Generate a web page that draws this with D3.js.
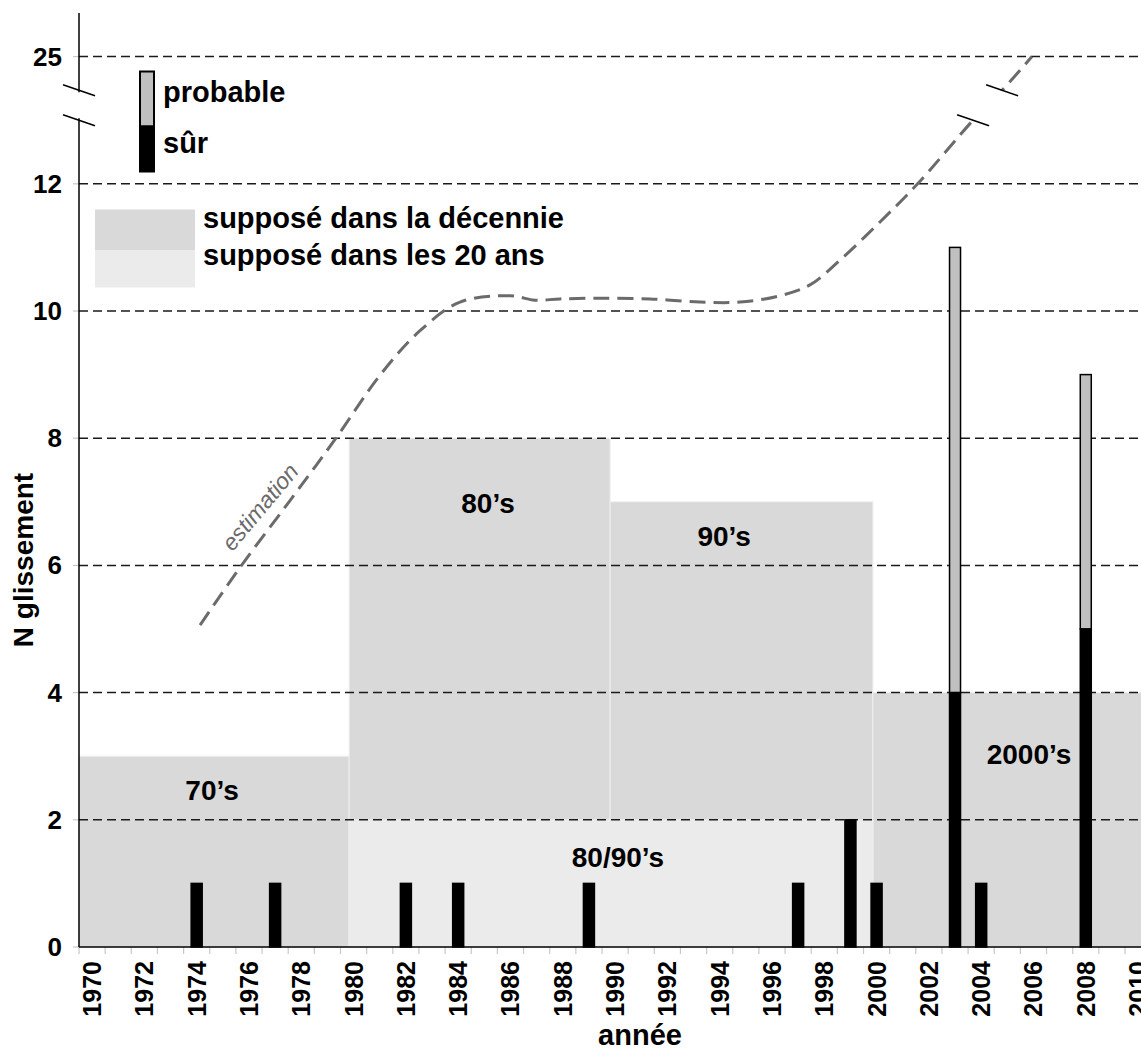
<!DOCTYPE html>
<html><head><meta charset="utf-8">
<script src="https://cdn.jsdelivr.net/npm/d3@7"></script>
<style>
body{margin:0;background:#fff}
svg{display:block}
text{font-family:"Liberation Sans",Arial,Helvetica,sans-serif;font-weight:bold;fill:#000}
</style>
</head><body>
<svg id="chart" width="1141" height="1055"></svg>
<script>
// ---------- DATA ----------
const years = d3.range(1970, 2011);               // category axis 1970..2010
const yearLabels = years.filter(y => y % 2 === 0);
const barYears       = [1974,1977,1982,1984,1989,1997,1999,2000,2003,2004,2008];
const surValues      = [1,   1,   1,   1,   1,   1,   2,   1,   4,   1,   5];
const probableValues = [0,   0,   0,   0,   0,   0,   0,   0,   7,   0,   4];

const yTickValues = [0,2,4,6,8,10,12,14];
const yTickLabels = ["0","2","4","6","8","10","12","25"];
const axisBreakValues = [13.0, 13.47];

// supposed-count blocks (decade / 20-year)
const blockNames  = ["70’s","80’s","90’s","2000’s","80/90’s"];
const blockStarts = [1970, 1980.33, 1990.31, 2000.36, 1980.33];
const blockEnds   = [1980.33, 1990.31, 2000.36, 2011, 2000.36];
const blockValues = [3, 8, 7, 4, 2];
const blockKinds  = ["decade","decade","decade","decade","twenty"];
const blockLabelYears  = [1975.09, 1985.64, 1994.67, 2006.33, 1990.61];
const blockLabelValues = [2.31, 6.82, 6.30, 2.88, 1.26];

// estimation curve (axis units; 14 = "25")
const estYears  = [1974.63,1976.16,1978.07,1979.79,1981.51,1983.04,1984.57,1986.48,1987.44,1988.39,1989.92,1991.84,1993.75,1995.28,1996.8,1997.95,1999.1,2000.63,2002.07,2004.19,2005.3,2006.44];
const estValues = [5.06,   5.97,   7.02,   7.98,   8.99,   9.69,   10.14,  10.24,  10.17,  10.19,  10.2,   10.19,  10.14,  10.14,  10.24, 10.41,  10.8,   11.4,   12.0,   13.0,   13.47,  14.0];
const estLabel = "estimation";
const estLabelPos = [1976.92, 6.92];

const legendBarLabels = ["probable","sûr"];
const legendBlockLabels = ["supposé dans la décennie","supposé dans les 20 ans"];
const xTitle = "année", yTitle = "N glissement";

// ---------- SCALES ----------
const svg = d3.select("#chart");
const W = 1141;
const x0 = 79, yearW = 26.15;
const xBand = d3.scaleBand().domain(years).range([x0, x0 + years.length*yearW]).padding(0);
const xLin = d3.scaleLinear().domain([1970, 1970 + years.length]).range([x0, x0 + years.length*yearW]);
const y = d3.scaleLinear().domain([0,14]).range([947, 56.6]);

const colDecade = "#d9d9d9", colTwenty = "#ebebeb", colProb = "#c0c0c0";

// ---------- BLOCKS ----------
const blocks = blockNames.map((n,i)=>({n, s:blockStarts[i], e:blockEnds[i], v:blockValues[i], k:blockKinds[i], lx:blockLabelYears[i], ly:blockLabelValues[i]}));
svg.append("g").selectAll("rect").data(blocks).join("rect")
  .attr("x", d=>xLin(d.s)).attr("width", d=>Math.min(xLin(d.e), W+5)-xLin(d.s))
  .attr("y", d=>y(d.v)).attr("height", d=>y(0)-y(d.v))
  .attr("fill", d=>d.k==="decade"?colDecade:colTwenty)
  .attr("stroke", "#eeeeee").attr("stroke-width", 1);

// ---------- GRIDLINES ----------
svg.append("g").selectAll("line").data(yTickValues.filter(v=>v>0)).join("line")
  .attr("x1", x0).attr("x2", W).attr("y1", d=>y(d)).attr("y2", d=>y(d))
  .attr("stroke", "#1a1a1a").attr("stroke-width", 1.5).attr("stroke-dasharray", "9 5");

// ---------- AXES ----------
const ax = svg.append("g");
ax.selectAll("line.yt").data(yTickValues).join("line").attr("class","yt")
  .attr("x1", x0-6).attr("x2", x0).attr("y1", d=>y(d)).attr("y2", d=>y(d))
  .attr("stroke", "#c8c8c8").attr("stroke-width", 1.2);
ax.selectAll("text.yl").data(yTickValues).join("text").attr("class","yl")
  .attr("x", 62).attr("y", d=>y(d)).attr("text-anchor","end").attr("dominant-baseline","central")
  .attr("font-size", 26).text((d,i)=>yTickLabels[i]);
ax.append("line").attr("x1",x0).attr("x2",x0).attr("y1",13).attr("y2",y(axisBreakValues[1])+2).attr("stroke","#000").attr("stroke-width",1.5);
ax.append("line").attr("x1",x0).attr("x2",x0).attr("y1",y(axisBreakValues[0])-2).attr("y2",y(0)).attr("stroke","#000").attr("stroke-width",1.5);
ax.selectAll("line.brk").data(axisBreakValues).join("line").attr("class","brk")
  .attr("x1", x0-16).attr("x2", x0+16).attr("y1", d=>y(d)-5.5).attr("y2", d=>y(d)+5.5)
  .attr("stroke","#000").attr("stroke-width",1.5);
ax.selectAll("line.xt").data(d3.range(1970, 1970+years.length+1)).join("line").attr("class","xt")
  .attr("x1", d=>xLin(d)).attr("x2", d=>xLin(d)).attr("y1", y(0)).attr("y2", y(0)+7)
  .attr("stroke","#c8c8c8").attr("stroke-width",1.2);
ax.selectAll("text.xl").data(yearLabels).join("text").attr("class","xl")
  .attr("transform", d=>`translate(${xBand(d)+xBand.bandwidth()/2},961) rotate(-90)`)
  .attr("text-anchor","end").attr("dominant-baseline","central").attr("font-size",25).text(d=>d);
ax.append("line").attr("x1",x0).attr("x2",W).attr("y1",y(0)).attr("y2",y(0)).attr("stroke","#000").attr("stroke-width",1.5);

// titles
svg.append("text").attr("x", 640).attr("y", 1045).attr("text-anchor","middle").attr("font-size",29).text(xTitle);
svg.append("text").attr("transform","translate(33,560) rotate(-90)").attr("text-anchor","middle").attr("font-size",28).text(yTitle);

// ---------- ESTIMATION CURVE ----------
const defs = svg.append("defs");
const cp = defs.append("clipPath").attr("id","gapclip");
cp.append("rect").attr("x",0).attr("y",0).attr("width",W).attr("height",y(axisBreakValues[1]));
cp.append("rect").attr("x",0).attr("y",y(axisBreakValues[0])).attr("width",W).attr("height",1055);
const estPts = estYears.map((yr,i)=>[xLin(yr), y(estValues[i])]);
svg.append("path").attr("d", d3.line().curve(d3.curveCatmullRom.alpha(0.5))(estPts))
  .attr("fill","none").attr("stroke","#6b6b6b").attr("stroke-width",3).attr("stroke-dasharray","16 8")
  .attr("clip-path","url(#gapclip)");
const brkIdx = axisBreakValues.map(v=>estValues.indexOf(v));
svg.selectAll("line.cbrk").data(brkIdx).join("line").attr("class","cbrk")
  .attr("x1", i=>xLin(estYears[i])-16).attr("x2", i=>xLin(estYears[i])+16)
  .attr("y1", i=>y(estValues[i])-5.5).attr("y2", i=>y(estValues[i])+5.5)
  .attr("stroke","#000").attr("stroke-width",1.5);
svg.append("text").attr("transform",`translate(${xLin(estLabelPos[0])},${y(estLabelPos[1])}) rotate(-50)`)
  .attr("text-anchor","middle").attr("dominant-baseline","central")
  .style("font-weight","normal").style("font-style","italic").style("fill","#6b6b6b")
  .attr("font-size",23).text(estLabel);

// ---------- BARS ----------
const bw = 11;
const bars = barYears.map((yr,i)=>({yr, s:surValues[i], p:probableValues[i]}));
const bg = svg.append("g");
bg.selectAll("rect.p").data(bars.filter(d=>d.p>0)).join("rect").attr("class","p")
  .attr("x", d=>xBand(d.yr)+xBand.bandwidth()/2-bw/2).attr("width", bw)
  .attr("y", d=>y(d.s+d.p)).attr("height", d=>y(d.s)-y(d.s+d.p))
  .attr("fill", colProb).attr("stroke","#000").attr("stroke-width",1.5);
bg.selectAll("rect.s").data(bars).join("rect").attr("class","s")
  .attr("x", d=>xBand(d.yr)+xBand.bandwidth()/2-bw/2).attr("width", bw)
  .attr("y", d=>y(d.s)).attr("height", d=>y(0)-y(d.s))
  .attr("fill", "#000").attr("stroke","#000").attr("stroke-width",1.5);

// ---------- BLOCK LABELS ----------
svg.append("g").selectAll("text").data(blocks).join("text")
  .attr("x", d=>xLin(d.lx)).attr("y", d=>y(d.ly)).attr("text-anchor","middle")
  .attr("font-size",28).text(d=>d.n);

// ---------- LEGENDS ----------
const lg = svg.append("g");
lg.append("rect").attr("x",140).attr("y",71.5).attr("width",14).attr("height",55).attr("fill",colProb).attr("stroke","#000").attr("stroke-width",2);
lg.append("rect").attr("x",140).attr("y",126.5).attr("width",14).attr("height",45).attr("fill","#000").attr("stroke","#000").attr("stroke-width",2);
lg.append("text").attr("x",163).attr("y",102).attr("font-size",29).text(legendBarLabels[0]);
lg.append("text").attr("x",163).attr("y",153).attr("font-size",29).text(legendBarLabels[1]);
lg.append("rect").attr("x",95).attr("y",209.5).attr("width",100).attr("height",40.5).attr("fill",colDecade);
lg.append("rect").attr("x",95).attr("y",250).attr("width",100).attr("height",37.5).attr("fill",colTwenty);
lg.append("text").attr("x",203).attr("y",228).attr("font-size",29).text(legendBlockLabels[0]);
lg.append("text").attr("x",203).attr("y",265).attr("font-size",29).text(legendBlockLabels[1]);
</script>
</body></html>
